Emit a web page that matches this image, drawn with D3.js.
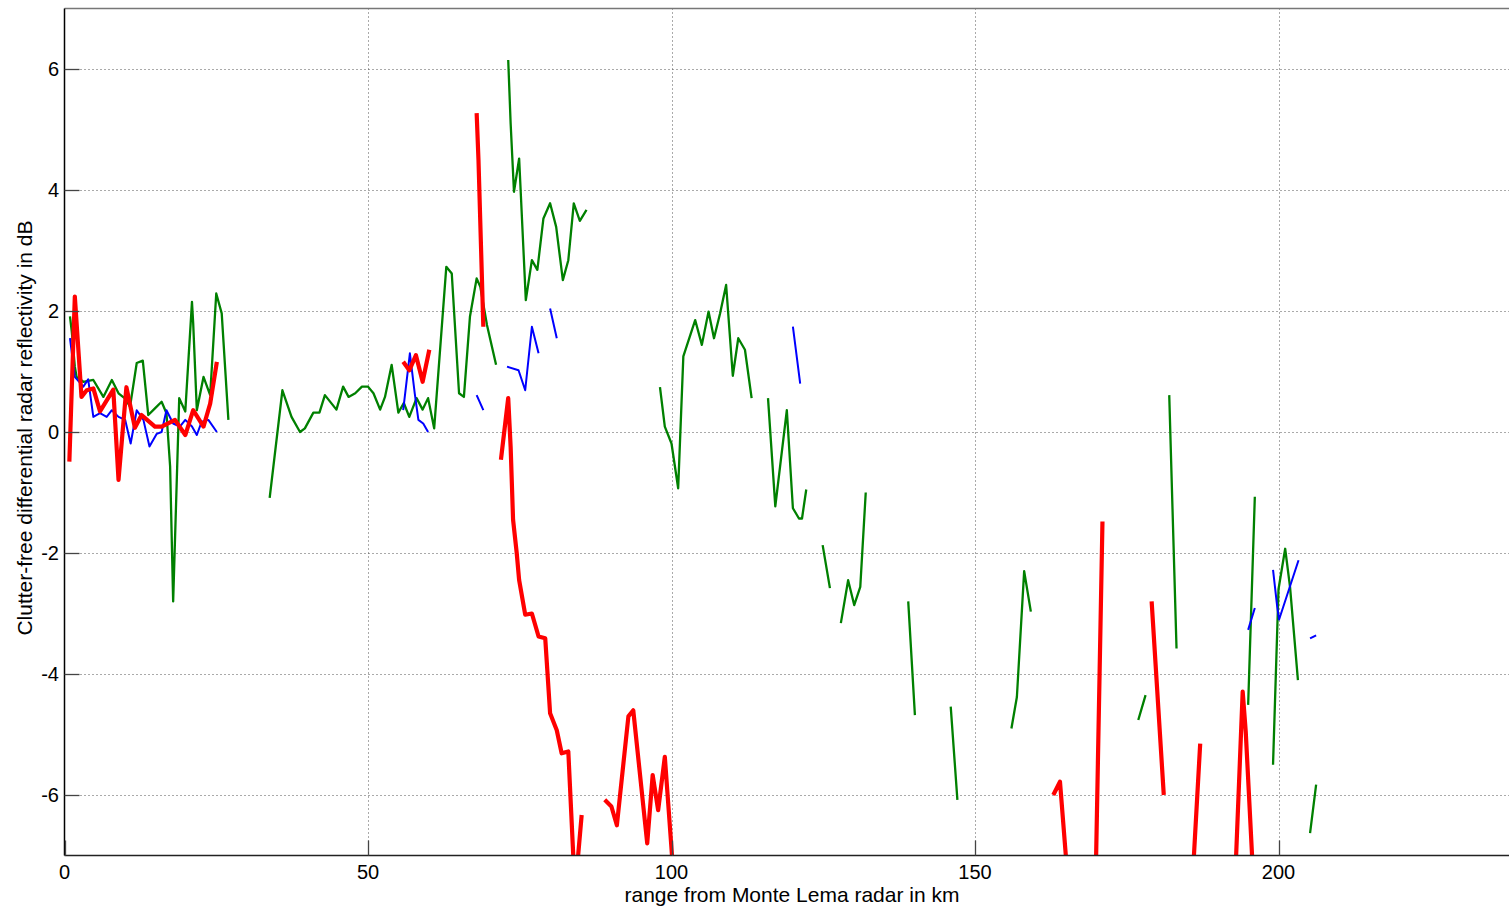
<!DOCTYPE html>
<html>
<head>
<meta charset="utf-8">
<script src="https://cdn.jsdelivr.net/npm/d3@7"></script>
<style>
  html, body { margin: 0; padding: 0; background: #fff; }
  svg { display: block; font-family: "Liberation Sans", Arial, sans-serif; }
</style>
</head>
<body>
<svg id="chart" width="1509" height="906"></svg>
<script>
// Range-profile traces of differential reflectivity (km, dB); null breaks a trace.
const greenTrace = [
  [0.9,1.91],[1.2,1.66],[1.7,1.08],[2.0,0.91],[3.1,0.83],[4.75,0.86],[6.4,0.58],[7.8,0.86],
  [8.9,0.64],[10.0,0.55],[10.8,0.42],[11.9,1.14],[12.9,1.18],[13.8,0.28],[14.9,0.39],[16.0,0.5],
  [16.8,0.31],[17.4,-0.57],[17.9,-2.8],[18.5,-0.79],[18.9,0.56],[19.9,0.34],[21.0,2.15],[21.2,1.8],
  [21.8,0.36],[22.9,0.91],[24.0,0.61],[25.0,2.29],[25.9,1.96],[27.0,0.2],
  null,
  [33.8,-1.09],[35.9,0.69],[37.4,0.25],[38.8,0.0],[39.6,0.06],[41.0,0.32],[42.0,0.32],[42.9,0.61],
  [44.8,0.37],[45.9,0.75],[46.8,0.58],[47.9,0.64],[49.0,0.75],[50.0,0.75],[50.9,0.64],[52.0,0.37],
  [52.8,0.58],[53.9,1.11],[55.0,0.32],[55.9,0.48],[56.8,0.25],[58.0,0.56],[59.0,0.37],[59.9,0.56],
  [60.9,0.06],[62.9,2.73],[63.8,2.62],[65.0,0.64],[65.8,0.58],[66.8,1.91],[67.9,2.54],[68.5,2.4],
  [69.6,1.77],[71.1,1.11],
  null,
  [73.1,6.15],[73.5,5.1],[74.05,3.97],[74.9,4.52],[76.0,2.18],[77.0,2.84],[77.9,2.68],[78.9,3.53],
  [80.0,3.78],[81.0,3.39],[82.1,2.51],[83.0,2.84],[83.9,3.78],[84.9,3.49],[86.0,3.67],
  null,
  [98.1,0.74],[98.9,0.09],[100.0,-0.19],[101.1,-0.93],[101.95,1.25],[103.9,1.85],[105.0,1.44],
  [106.1,1.99],[107.0,1.55],[108.0,1.96],[109.0,2.43],[110.1,0.93],[111.0,1.55],[112.1,1.36],[113.2,0.56],
  null,
  [115.9,0.56],[117.1,-1.23],[119.0,0.36],[120.0,-1.26],[121.0,-1.43],[121.5,-1.43],[122.2,-0.95],
  null,
  [124.9,-1.87],[126.1,-2.58],
  null,
  [127.9,-3.16],[129.1,-2.45],[130.1,-2.86],[131.1,-2.56],[132.0,-1.0],
  null,
  [139.0,-2.8],[140.1,-4.68],
  null,
  [146.0,-4.54],[147.1,-6.08],
  null,
  [156.0,-4.9],[156.9,-4.38],[158.1,-2.3],[159.2,-2.97],
  null,
  [176.9,-4.76],[178.1,-4.35],
  null,
  [182.0,0.61],[183.2,-3.58],
  null,
  [195.0,-4.51],[196.1,-1.07],
  null,
  [199.1,-5.5],[200.0,-2.6],[201.1,-1.93],[201.9,-2.56],[203.2,-4.1],
  null,
  [205.2,-6.63],[206.2,-5.83]
];

const blueTrace = [
  [0.9,1.55],[1.7,0.91],[3.1,0.75],[3.9,0.87],[4.75,0.25],[5.85,0.31],[6.95,0.25],[7.8,0.36],
  [8.9,0.25],[10.0,0.2],[10.9,-0.19],[11.9,0.36],[13.0,0.2],[14.0,-0.24],[15.2,-0.03],[16.0,0.0],
  [16.8,0.36],[17.9,0.14],[19.0,0.09],[19.9,0.2],[21.0,0.09],[21.8,-0.05],[22.6,0.17],[23.7,0.2],[25.1,0.0],
  null,
  [55.8,0.36],[56.9,1.3],[57.7,0.64],[58.3,0.2],[59.1,0.14],[59.9,0.0],
  null,
  [67.9,0.61],[69.0,0.36],
  null,
  [72.9,1.08],[74.8,1.02],[75.9,0.69],[77.0,1.74],[78.1,1.3],
  null,
  [80.0,2.04],[81.1,1.55],
  null,
  [120.0,1.74],[121.2,0.8],
  null,
  [195.0,-3.27],[196.1,-2.91],
  null,
  [199.1,-2.28],[199.8,-2.9],[200.1,-3.1],[203.3,-2.12],
  null,
  [205.2,-3.41],[206.2,-3.36]
];

const redTrace = [
  [0.8,-0.49],[1.7,2.24],[2.8,0.58],[3.66,0.69],[4.75,0.72],[5.85,0.34],[8.04,0.7],[8.9,-0.79],
  [10.2,0.74],[11.6,0.07],[12.7,0.28],[14.9,0.09],[16.0,0.09],[18.2,0.2],[19.9,-0.05],[21.2,0.36],
  [22.9,0.09],[24.0,0.47],[25.1,1.16],
  null,
  [55.8,1.16],[56.8,1.02],[57.9,1.27],[59.0,0.83],[60.1,1.36],
  null,
  [67.9,5.27],[68.2,4.5],[69.0,1.74],
  null,
  [71.9,-0.46],[73.1,0.56],[73.5,-0.25],[73.9,-1.45],[74.5,-2.0],[74.9,-2.45],[75.9,-3.02],[77.0,-3.0],
  [78.1,-3.38],[79.2,-3.41],[80.0,-4.65],[81.1,-4.93],[81.9,-5.31],[83.0,-5.28],[84.1,-7.6],[85.2,-6.33],
  null,
  [89.0,-6.08],[90.1,-6.19],[91.0,-6.5],[92.9,-4.7],[93.7,-4.6],[96.0,-6.8],[96.9,-5.67],[97.8,-6.25],
  [98.9,-5.37],[100.3,-7.3],
  null,
  [162.9,-6.0],[164.0,-5.78],[165.2,-7.3],
  null,
  [169.9,-7.3],[171.0,-1.48],
  null,
  [179.1,-2.8],[181.1,-6.0],
  null,
  [185.9,-7.3],[187.1,-5.15],
  null,
  [192.9,-7.3],[194.1,-4.29],[194.6,-4.95],[195.9,-7.5]
];

const xTicks = [0, 50, 100, 150, 200];
const yTicks = [-6, -4, -2, 0, 2, 4, 6];
const xDomain = [0, 240];
const yDomain = [-7, 7];

const svg = d3.select("#chart");
const plotLeft = 64.5, plotTop = 8.5, plotBottom = 855.5;
const plotRight = plotLeft + 240 * 6.07;

const x = d3.scaleLinear().domain(xDomain).range([plotLeft, plotRight]);
const y = d3.scaleLinear().domain(yDomain).range([plotBottom, plotTop]);

svg.append("defs").append("clipPath").attr("id", "plotClip")
  .append("rect").attr("x", plotLeft).attr("y", plotTop)
  .attr("width", plotRight - plotLeft).attr("height", plotBottom - plotTop);

// dotted grid
const grid = svg.append("g").attr("stroke", "#555").attr("stroke-width", 1)
  .attr("stroke-dasharray", "1,3");
grid.selectAll("line.h").data(yTicks).join("line").attr("class", "h")
  .attr("x1", plotLeft).attr("x2", plotRight)
  .attr("y1", d => Math.round(y(d)) + 0.5).attr("y2", d => Math.round(y(d)) + 0.5);
grid.selectAll("line.v").data(xTicks.filter(d => d > 0)).join("line").attr("class", "v")
  .attr("y1", plotTop).attr("y2", plotBottom)
  .attr("x1", d => Math.round(x(d)) + 0.5).attr("x2", d => Math.round(x(d)) + 0.5);

// traces
const line = d3.line().defined(d => d !== null).x(d => x(d[0])).y(d => y(d[1]));
const traces = svg.append("g").attr("clip-path", "url(#plotClip)").attr("fill", "none");
traces.append("path").datum(greenTrace).attr("d", line)
  .attr("stroke", "#008000").attr("stroke-width", 2.3).attr("stroke-linejoin", "round");
traces.append("path").datum(blueTrace).attr("d", line)
  .attr("stroke", "#0000ff").attr("stroke-width", 2).attr("stroke-linejoin", "round");
traces.append("path").datum(redTrace).attr("d", line)
  .attr("stroke", "#ff0000").attr("stroke-width", 4.2).attr("stroke-linejoin", "round");

// axes: box lines with inward ticks
const axisG = svg.append("g");
axisG.append("line").attr("x1", plotLeft).attr("x2", plotRight).attr("y1", plotTop).attr("y2", plotTop)
  .attr("stroke", "#777").attr("stroke-width", 1.5);
axisG.append("line").attr("x1", plotLeft).attr("x2", plotLeft).attr("y1", plotTop).attr("y2", plotBottom)
  .attr("stroke", "#000").attr("stroke-width", 1.5);
axisG.append("line").attr("x1", plotLeft).attr("x2", plotRight).attr("y1", plotBottom).attr("y2", plotBottom)
  .attr("stroke", "#222").attr("stroke-width", 1.5);

axisG.selectAll("line.xt").data(xTicks).join("line").attr("class", "xt")
  .attr("x1", d => Math.round(x(d)) + 0.5).attr("x2", d => Math.round(x(d)) + 0.5)
  .attr("y1", plotBottom).attr("y2", plotBottom - 15).attr("stroke", "#444").attr("stroke-width", 1.3);
axisG.selectAll("line.yt").data(yTicks).join("line").attr("class", "yt")
  .attr("y1", d => Math.round(y(d)) + 0.5).attr("y2", d => Math.round(y(d)) + 0.5)
  .attr("x1", plotLeft).attr("x2", plotLeft + 15).attr("stroke", "#444").attr("stroke-width", 1.3);

axisG.selectAll("text.xl").data(xTicks).join("text").attr("class", "xl")
  .attr("x", d => x(d)).attr("y", 878.5).attr("text-anchor", "middle")
  .attr("font-size", 20).attr("fill", "#000").text(d => d);
axisG.selectAll("text.yl").data(yTicks).join("text").attr("class", "yl")
  .attr("x", 59).attr("y", d => y(d) + 7).attr("text-anchor", "end")
  .attr("font-size", 20).attr("fill", "#000").text(d => d);

svg.append("text").attr("x", 792).attr("y", 902).attr("text-anchor", "middle")
  .attr("font-size", 21).attr("fill", "#000").text("range from Monte Lema radar in km");
svg.append("text").attr("transform", "translate(32,428) rotate(-90)").attr("text-anchor", "middle")
  .attr("font-size", 21).attr("fill", "#000").text("Clutter-free differential radar reflectivity in dB");
</script>
</body>
</html>
